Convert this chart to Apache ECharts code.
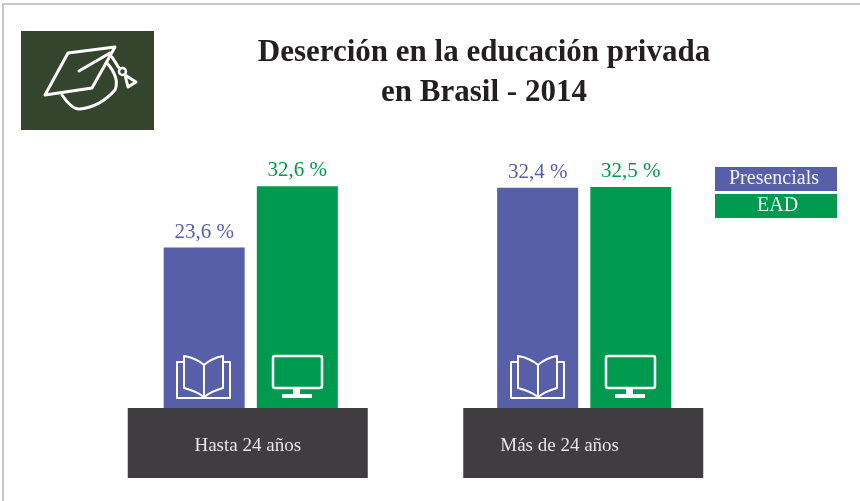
<!DOCTYPE html>
<html>
<head>
<meta charset="utf-8">
<style>
  html, body { margin: 0; padding: 0; background: #fff; }
  #box { width: 860px; height: 501px; }
</style>
<script src="https://cdn.jsdelivr.net/npm/echarts@6/dist/echarts.min.js"></script>
</head>
<body>
<div id="box"></div>
<script>
const categories = ["Hasta 24 años", "Más de 24 años"];
const presencials = [23.6, 32.4];
const ead = [32.6, 32.5];
const seriesNames = ["Presencials", "EAD"];
const titleLines = ["Deserción en la educación privada", "en Brasil - 2014"];

const BLUE = "#575fa9";
const GREEN = "#009a4e";
const DARK = "#3f3d40";
const SERIF = '"Liberation Serif", serif';

function valueLabel(color) {
  return {
    show: true,
    position: "top",
    distance: 5,
    color: color,
    fontFamily: SERIF,
    fontSize: 21,
    formatter: (p) => p.value.toFixed(1).replace(".", ",") + " %",
  };
}

function legendItem(name, color, indent) {
  return {
    name: name,
    icon: "none",
    textStyle: {
      color: "#f2f2f2",
      fontFamily: SERIF,
      fontSize: 20,
      backgroundColor: color,
      width: 122 - indent,
      height: 24,
      lineHeight: 24,
      padding: [0, 0, 0, indent],
    },
  };
}

// white line icons sitting on the bars and in the logo
function line(d, dx, width) {
  return {
    type: "path",
    x: dx || 0,
    shape: { pathData: d },
    style: { fill: "none", stroke: "#fff", lineWidth: width || 2, lineJoin: "round", lineCap: "round" },
  };
}

function solid(d, dx) {
  return { type: "path", x: dx || 0, shape: { pathData: d }, style: { fill: "#fff" } };
}

const bookPath =
  "M184 362 L177 362 L177 398 L230 398 L230 362 L223 362" +
  "M204 397 Q196 391 184 388 L184 356 Q196 358 204 365 Q212 358 223 356 L223 388 Q212 391 204 397 Z M204 365 L204 397";
const screenPath =
  "M275 356 L320 356 Q322 356 322 358 L322 386 Q322 388 320 388 L275 388 Q273 388 273 386 L273 358 Q273 356 275 356 Z";
const standPath = "M293 388 L300 388 L300 394 L312 394 L312 398 L282 398 L282 394 L293 394 Z";
const capPath =
  "M68 53 L115 47 L92 88 L45 95 Z M79 71 L110 53" +
  "M62 95 Q72 110 80 109 Q100 107 115 90 Q120 78 107 63" +
  "M112 57 L119 68 M125 75 L136 82 L128 87 Z";

function drawIcons() {
  return {
    type: "group",
    children: [
      line(capPath, 0, 3),
      { type: "circle", shape: { cx: 122.5, cy: 71.5, r: 3.5 }, style: { fill: "none", stroke: "#fff", lineWidth: 2.5 } },
      line(bookPath),
      line(screenPath, 0, 2.5),
      solid(standPath),
      line(bookPath, 334),
      line(screenPath, 333, 2.5),
      solid(standPath, 333),
    ],
  };
}

let chart = echarts.init(document.getElementById("box"));

let option = {
  backgroundColor: "#fff",
  animation: false,
  grid: { left: 84, right: 109, top: 136, bottom: 93 },
  legend: {
    left: 710,
    top: 167,
    orient: "vertical",
    itemWidth: 0,
    itemHeight: 24,
    itemGap: 3,
    padding: 0,
    selectedMode: false,
    data: [legendItem(seriesNames[0], BLUE, 14), legendItem(seriesNames[1], GREEN, 42)],
  },
  xAxis: {
    type: "category",
    data: categories,
    offset: 3,
    axisLine: { show: false },
    axisTick: { show: false },
    axisLabel: {
      margin: 0,
      interval: 0,
      // the empty s/t pieces nudge the dark boxes left of the category centre
      formatter: (v, i) => (i === 0 ? "{a|" + v + "}{s|}" : "{b|" + v + "}{t|}"),
      rich: {
        a: {
          width: 240, height: 64, lineHeight: 64, align: "center", padding: [6, 0, 0, 0],
          backgroundColor: DARK, color: "#e6e6e6", fontFamily: SERIF, fontSize: 19,
        },
        b: {
          width: 203, height: 64, lineHeight: 64, align: "left", padding: [6, 0, 0, 37],
          backgroundColor: DARK, color: "#e6e6e6", fontFamily: SERIF, fontSize: 19,
        },
        s: { width: 6 },
        t: { width: 2 },
      },
    },
  },
  yAxis: { type: "value", min: 0, max: 40, show: false },
  series: [
    {
      name: seriesNames[0],
      type: "bar",
      data: presencials,
      barWidth: 81,
      barGap: "15%",
      itemStyle: { color: BLUE },
      label: valueLabel(BLUE),
    },
    {
      name: seriesNames[1],
      type: "bar",
      data: ead,
      barWidth: 81,
      itemStyle: { color: GREEN },
      label: valueLabel(GREEN),
    },
    {
      type: "custom",
      coordinateSystem: "none",
      silent: true,
      z: 10,
      data: [0],
      renderItem: drawIcons,
    },
  ],
  graphic: [
    // page frame
    { type: "rect", z: -1, shape: { x: 2, y: 3, width: 2, height: 498 }, style: { fill: "#c8c8c8" } },
    { type: "rect", z: -1, shape: { x: 2, y: 3, width: 858, height: 2 }, style: { fill: "#c8c8c8" } },
    // logo
    { type: "rect", z: -1, shape: { x: 21, y: 31, width: 133, height: 99 }, style: { fill: "#35442c" } },
    // title
    {
      type: "text",
      x: 484,
      y: 33,
      style: {
        text: titleLines.join("\n"),
        fill: "#231f20",
        font: "bold 31px " + SERIF,
        lineHeight: 40,
        align: "center",
      },
    },
  ],
};

chart.setOption(option);
</script>
</body>
</html>
